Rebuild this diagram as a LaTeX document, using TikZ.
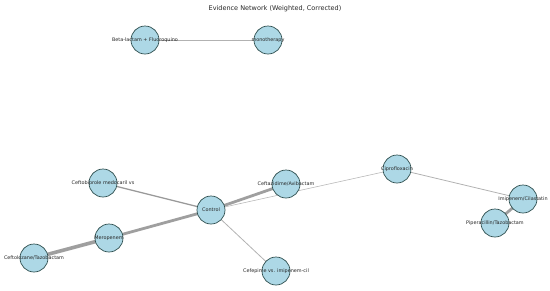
\documentclass[tikz,border=0pt]{standalone}
\usepackage{fontspec}
\setmainfont{DejaVu Sans}
\definecolor{nodefill}{RGB}{173,216,230}
\definecolor{nodeline}{RGB}{47,79,79}
\begin{document}
\begin{tikzpicture}[x=1pt,y=-1pt,
  drug/.style={circle,draw=nodeline,line width=0.7pt,fill=nodefill,minimum size=28pt,inner sep=0pt},
  lbl/.style={font=\fontsize{4.9}{5}\selectfont,text=black!85,inner sep=0pt},
  edge/.style={draw=gray!85,line cap=butt}]
\useasboundingbox (0,0) rectangle (550,290);
\node[font=\fontsize{6.5}{7}\selectfont,text=black!85] (title) at (275,9) {Evidence Network (Weighted, Corrected)};
% node positions
\coordinate (beta) at (145,40);
\coordinate (mono) at (268,40);
\coordinate (ceftob) at (103,183);
\coordinate (ctrl) at (211,210);
\coordinate (mero) at (109,238);
\coordinate (ceftol) at (34,258);
\coordinate (cefep) at (276,271);
\coordinate (ceftaz) at (286,184);
\coordinate (cipro) at (397,169);
\coordinate (imip) at (523,199);
\coordinate (pip) at (495,223);
% edges
\draw[edge,line width=0.6pt,draw=gray!60] (beta) -- (mono);
\draw[edge,line width=1.3pt,draw=gray!80] (ceftob) -- (ctrl);
\draw[edge,line width=2.8pt,draw=gray!75] (ctrl) -- (mero);
\draw[edge,line width=3.6pt,draw=gray!75] (mero) -- (ceftol);
\draw[edge,line width=2.8pt,draw=gray!75] (ctrl) -- (ceftaz);
\draw[edge,line width=0.6pt,draw=gray!55] (ctrl) -- (cipro);
\draw[edge,line width=0.8pt,draw=gray!60] (ctrl) -- (cefep);
\draw[edge,line width=0.8pt,draw=gray!60] (cipro) -- (imip);
\draw[edge,line width=2.8pt,draw=gray!75] (imip) -- (pip);
% nodes with labels
\node[drug] (nbeta) at (beta) {};
\node[drug] (nmono) at (mono) {};
\node[drug] (nceftob) at (ceftob) {};
\node[drug] (nctrl) at (ctrl) {};
\node[drug] (nmero) at (mero) {};
\node[drug] (nceftol) at (ceftol) {};
\node[drug] (ncefep) at (cefep) {};
\node[drug] (nceftaz) at (ceftaz) {};
\node[drug] (ncipro) at (cipro) {};
\node[drug] (nimip) at (imip) {};
\node[drug] (npip) at (pip) {};
\node[lbl] at (nbeta) {Beta-lactam + Fluoroquino};
\node[lbl] at (nmono) {monotherapy};
\node[lbl] at (nceftob) {Ceftobiprole medocaril vs};
\node[lbl] at (nctrl) {Control};
\node[lbl] at (nmero) {Meropenem};
\node[lbl] at (nceftol) {Ceftolozane/Tazobactam};
\node[lbl] at (ncefep) {Cefepime vs. imipenem-cil};
\node[lbl] at (nceftaz) {Ceftazidime/Avibactam};
\node[lbl] at (ncipro) {Ciprofloxacin};
\node[lbl] at (nimip) {Imipenem/Cilastatin};
\node[lbl] at (npip) {Piperacillin/Tazobactam};
\end{tikzpicture}
\end{document}
